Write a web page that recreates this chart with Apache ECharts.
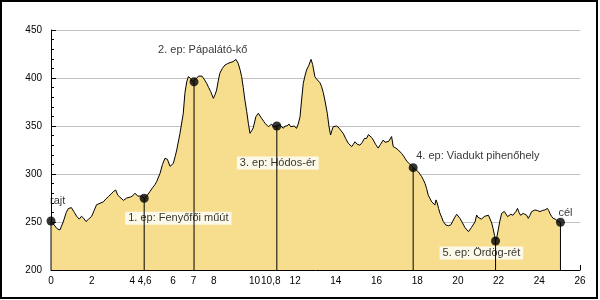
<!DOCTYPE html>
<html>
<head>
<meta charset="utf-8">
<script src="https://cdn.jsdelivr.net/npm/echarts@6/dist/echarts.min.js"></script>
<style>
html,body{margin:0;padding:0;background:#fff;}
#c{width:600px;height:300px;}
</style>
</head>
<body>
<div id="c"></div>
<script>
// Elevation profile: distance (km) and elevation (m)
var profileKm = [0,0.15,0.3,0.44,0.6,0.75,0.85,1.0,1.15,1.26,1.39,1.5,1.6,1.72,1.85,2.0,2.12,2.24,2.41,2.5,2.57,2.7,2.82,2.95,3.06,3.18,3.28,3.38,3.47,3.56,3.64,3.72,3.8,3.9,4.0,4.13,4.26,4.35,4.45,4.58,4.7,4.86,5.0,5.11,5.19,5.36,5.48,5.6,5.72,5.85,6.01,6.1,6.18,6.34,6.5,6.58,6.67,6.75,6.86,6.95,7.03,7.16,7.25,7.32,7.42,7.55,7.65,7.75,7.85,7.98,8.07,8.14,8.22,8.3,8.42,8.55,8.68,8.8,8.95,9.09,9.2,9.3,9.37,9.45,9.53,9.62,9.7,9.78,9.86,9.94,10.07,10.19,10.27,10.35,10.45,10.52,10.6,10.68,10.75,10.85,10.93,11.0,11.09,11.17,11.25,11.33,11.42,11.5,11.6,11.7,11.78,11.87,11.95,12.07,12.15,12.24,12.32,12.4,12.48,12.56,12.67,12.78,12.86,12.97,13.05,13.14,13.22,13.3,13.38,13.46,13.58,13.66,13.74,13.8,13.87,13.95,14.04,14.1,14.17,14.26,14.36,14.48,14.61,14.7,14.78,14.86,14.94,15.05,15.18,15.3,15.4,15.51,15.6,15.68,15.76,15.84,15.95,16.08,16.2,16.33,16.42,16.5,16.6,16.74,16.82,16.95,17.07,17.15,17.23,17.32,17.4,17.5,17.6,17.7,17.81,17.95,18.05,18.13,18.22,18.3,18.38,18.46,18.54,18.62,18.71,18.79,18.87,18.92,18.98,19.05,19.12,19.2,19.28,19.4,19.53,19.65,19.75,19.85,19.94,20.02,20.1,20.2,20.35,20.43,20.52,20.59,20.67,20.75,20.84,20.92,20.98,21.05,21.15,21.24,21.32,21.41,21.5,21.57,21.66,21.73,21.8,21.85,21.92,21.98,22.06,22.15,22.28,22.36,22.44,22.52,22.6,22.7,22.77,22.85,22.93,23.0,23.08,23.14,23.21,23.29,23.38,23.46,23.54,23.62,23.7,23.78,23.9,24.03,24.15,24.27,24.34,24.4,24.46,24.52,24.6,24.68,24.78,24.85,24.94,25.04];
var profileElev = [251,247,243,241.7,250,260,264,265,260,256,253,256,254,250.5,253,256,262,268,269.5,268,271,274,276.5,279,281.6,283.3,278,276,274.7,272.5,273,275,274.7,276,277,280,277,279,277,274.7,277,281.6,286,289,292,300.7,310,316.3,315.3,308,311,318,325,342.4,363,384,396,401.4,399.6,396,396,399.7,402,404,402,398,394.5,390,385.8,378.8,383,387.5,397,405,410,413.5,415,416,417,419.4,415.3,408,401.4,390,377,365,352.8,342.4,345,348,359.7,363.2,363.2,358,355,352.8,354,349.3,351,352,349,347.6,350,352,351,349,347.6,350,350,352,349.3,351,350,347.6,352,359.7,378,394.5,402,408.3,413,419.4,414,401.4,399,398,395,391,385,377,363.2,350,340.6,345,349.3,348,350,348,347.6,345,342.4,337,332,330,328.5,331,333.6,331,330,333,337,337,341,340.6,338,335.4,331,327,331,335.4,333,332,334,339,328.5,327,325,324,321.5,319,316.3,313,311,309,306.6,304,302.4,300.7,297.2,294,290.3,285,278,274.7,271,269,267.7,273,270,264,259,255,250.5,247,246,247,251,255,258,256,253.8,250,244,242.4,240,240.5,244.5,245,250,257.3,255,256,253,252,256,258,257,259,249,243,236,230.2,235,241.7,251,259,261,259,255.6,254,258,257,257.3,261,264.2,260,257,255,259,260.8,257,253.8,257,260.8,261,262.5,262,260.8,262,262.5,263,264.2,262,259,256,253.8,253,252,250.5,249.7];

// Stations (checkpoints)
var stationNames = ['rajt','1. ep: Fenyőfői műút','2. ep: Pápalátó-kő','3. ep: Hódos-ér','4. ep: Viadukt pihenőhely','5. ep: Ördög-rét','cél'];
var stationKm = [0, 4.58, 7.03, 11.1, 17.8, 21.85, 25.04];
var stationElev = [251, 274.7, 396, 350, 306.6, 230.2, 249.7];

// Axis tick labels
var xTickValues = [0,2,4,4.6,6,7,8,10,10.8,12,14,16,18,20,22,24,26];
var yMin = 200, yMax = 450, yStep = 50;

// label offsets (styling) relative to each marker: [dx, dy], text left-aligned
var labelOffsets = [[-4,-20],[-19,20],[-39,-32],[-40,37],[0,-12],[-56,12],[-5,-9]];

var profile = profileKm.map(function(k,i){ return [k, profileElev[i]]; });
var vlines = [];
stationKm.forEach(function(k,i){
  vlines.push([k, yMin]); vlines.push([k, stationElev[i]]); vlines.push('-');
});
var markers = stationKm.map(function(k,i){
  return {
    value: [k, stationElev[i]],
    name: stationNames[i],
    label: {
      offset: labelOffsets[i],
      backgroundColor: (i===0||i===6) ? 'transparent' : '#fff'
    }
  };
});

var FONT = 'Liberation Sans, Arial, sans-serif';
var chart = echarts.init(document.getElementById('c'), null, {renderer:'canvas'});
chart.setOption({
  animation: false,
  backgroundColor: '#fff',
  grid: {left: 51, right: 20, top: 30, bottom: 30},
  xAxis: {
    type: 'value', min: 0, max: 26,
    axisLine: {show: true, lineStyle: {color: '#000', width: 1}},
    axisTick: {show: true, inside: true, length: 5, lineStyle: {color: '#000'}, customValues: xTickValues},
    axisLabel: {
      customValues: xTickValues, color: '#000', fontFamily: FONT, fontSize: 10, margin: 6,
      formatter: function(v){ return String(v).replace('.', ','); }
    },
    splitLine: {show: false}
  },
  yAxis: {
    type: 'value', min: yMin, max: yMax, interval: yStep,
    axisLine: {show: true, lineStyle: {color: '#000', width: 1}},
    axisTick: {show: true, inside: true, length: 5, lineStyle: {color: '#000'}},
    minorTick: {show: true, splitNumber: 5, length: 3, lineStyle: {color: '#000'}},
    axisLabel: {color: '#000', fontFamily: FONT, fontSize: 10, margin: 9},
    splitLine: {show: true, lineStyle: {color: '#c0c0c0', width: 1}}
  },
  series: [
    {
      type: 'line', data: profile, z: 1, showSymbol: false, symbol: 'none',
      lineStyle: {color: '#000', width: 1},
      areaStyle: {color: '#f6de8e', opacity: 1, origin: 'start'}
    },
    {
      type: 'scatter', data: markers, z: 2, symbol: 'circle', symbolSize: 9,
      itemStyle: {color: '#000'},
      label: {
        show: true, position: 'inside', align: 'left', verticalAlign: 'middle',
        formatter: '{b}', color: '#000', fontFamily: FONT, fontSize: 11,
        padding: [1, 3, 1, 3]
      }
    },
    {
      type: 'line', data: vlines, z: 3, showSymbol: false, symbol: 'none',
      connectNulls: false, lineStyle: {color: '#000', width: 1}
    }
  ],
  graphic: [{
    type: 'rect', shape: {x: 1, y: 1, width: 596, height: 297},
    style: {fill: 'none', stroke: '#000', lineWidth: 2}, silent: true, z: 100
  }]
});
</script>
</body>
</html>
